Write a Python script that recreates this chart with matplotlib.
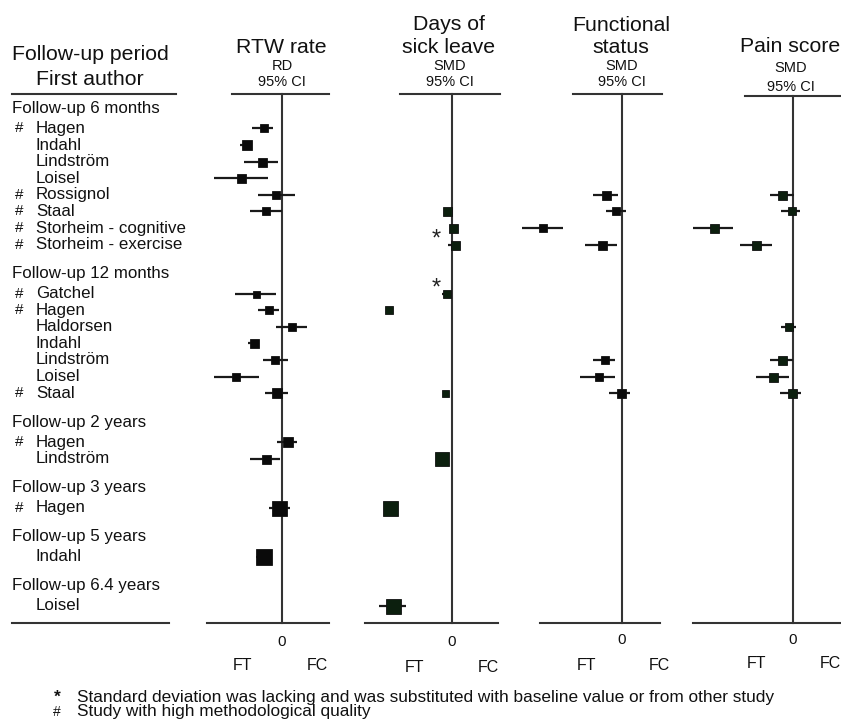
import numpy as np
import matplotlib
matplotlib.use("Agg")
import matplotlib.pyplot as plt

# ---------------- data ----------------
groups = ["Follow-up 6 months", "Follow-up 12 months", "Follow-up 2 years",
          "Follow-up 3 years", "Follow-up 5 years", "Follow-up 6.4 years"]
group_sizes = [8, 7, 2, 1, 1, 1]
study_labels = ["Hagen", "Indahl", "Lindström", "Loisel", "Rossignol", "Staal",
                "Storheim - cognitive", "Storheim - exercise",
                "Gatchel", "Hagen", "Haldorsen", "Indahl", "Lindström", "Loisel", "Staal",
                "Hagen", "Lindström",
                "Hagen",
                "Indahl",
                "Loisel"]
high_quality = [1, 0, 0, 0, 1, 1, 1, 1,
                1, 1, 0, 0, 0, 0, 1,
                1, 0,
                1,
                0,
                0]
nan = np.nan
# RTW rate, risk difference
rtw_est = [-0.09, -0.175, -0.10, -0.205, -0.03, -0.08, nan, nan,
           -0.13, -0.067, 0.05, -0.14, -0.033, -0.23, -0.025,
           0.028, -0.078, -0.017, -0.088, nan]
rtw_lo = [-0.15, -0.21, -0.19, -0.34, -0.12, -0.16, nan, nan,
          -0.235, -0.12, -0.03, -0.17, -0.095, -0.34, -0.083,
          -0.025, -0.16, -0.067, -0.128, nan]
rtw_hi = [-0.045, -0.15, -0.02, -0.07, 0.065, 0.0, nan, nan,
          -0.03, -0.017, 0.125, -0.113, 0.028, -0.117, 0.028,
          0.075, -0.008, 0.038, -0.05, nan]
rtw_weight = [8, 10, 9, 9, 8, 8, 0, 0, 7, 8, 8, 9, 8, 8, 10, 10, 9, 15, 16, 0]

# Days of sick leave, SMD
sick_est = [nan, nan, nan, nan, nan, -0.05, 0.01, 0.03,
            -0.045, -0.63, nan, nan, nan, nan, -0.07,
            nan, -0.095, -0.62, nan, -0.59]
sick_lo = [nan, nan, nan, nan, nan, -0.08, -0.02, -0.04,
           -0.10, -0.66, nan, nan, nan, nan, -0.09,
           nan, -0.13, -0.65, nan, -0.73]
sick_hi = [nan, nan, nan, nan, nan, -0.02, 0.04, 0.06,
           -0.01, -0.60, nan, nan, nan, nan, -0.05,
           nan, -0.06, -0.59, nan, -0.46]
sick_weight = [0, 0, 0, 0, 0, 9, 9, 9, 8, 8, 0, 0, 0, 0, 7, 0, 14, 15, 0, 15]
sick_sd_imputed = [0, 0, 0, 0, 0, 0, 0, 1, 1, 0, 0, 0, 0, 0, 0, 0, 0, 0, 0, 0]

# Functional status, SMD
func_est = [nan, nan, nan, nan, -0.16, -0.057, -0.79, -0.20,
            nan, nan, nan, nan, -0.167, -0.23, -0.01,
            nan, nan, nan, nan, nan]
func_lo = [nan, nan, nan, nan, -0.29, -0.157, -1.0, -0.37,
           nan, nan, nan, nan, -0.29, -0.42, -0.13,
           nan, nan, nan, nan, nan]
func_hi = [nan, nan, nan, nan, -0.04, 0.043, -0.59, -0.05,
           nan, nan, nan, nan, -0.067, -0.067, 0.076,
           nan, nan, nan, nan, nan]
func_weight = [0, 0, 0, 0, 9, 8, 8, 9, 0, 0, 0, 0, 8, 8, 9, 0, 0, 0, 0, 0]

# Pain score, SMD
pain_est = [nan, nan, nan, nan, -0.11, -0.01, -0.79, -0.37,
            nan, nan, -0.044, nan, -0.11, -0.20, -0.01,
            nan, nan, nan, nan, nan]
pain_lo = [nan, nan, nan, nan, -0.23, -0.12, -1.0, -0.53,
           nan, nan, -0.12, nan, -0.227, -0.37, -0.127,
           nan, nan, nan, nan, nan]
pain_hi = [nan, nan, nan, nan, 0.013, 0.073, -0.6, -0.21,
           nan, nan, 0.033, nan, -0.003, -0.044, 0.083,
           nan, nan, nan, nan, nan]
pain_weight = [0, 0, 0, 0, 9, 8, 9, 9, 0, 0, 8, 0, 9, 9, 9, 0, 0, 0, 0, 0]

# ---------------- layout ----------------
W, H = 841, 722
fig = plt.figure(figsize=(W / 100, H / 100), dpi=100)
FONT = "Liberation Sans"
plt.rcParams["font.family"] = [FONT, "DejaVu Sans"]
LINE_C = "#333333"

ROW0_PX, UNIT_PX = 108.5, 16.6


def u(py):
    return (py - ROW0_PX) / UNIT_PX


# row positions (in row units)
header_y, study_y = [], []
pos = 0.0
for gi, n in enumerate(group_sizes):
    if gi > 0:
        pos += 1.75
    header_y.append(pos)
    pos += 1.2
    for k in range(n):
        study_y.append(pos)
        pos += 1.0
    pos -= 1.0

TOP_U = u(94)
BOT_U = u(622.5)

# label axes
lab = fig.add_axes([0, 0, 1, 1])
lab.set_xlim(0, W)
lab.set_ylim(u(H), u(0))
lab.axis("off")
lab.patch.set_alpha(0)
for g, y in zip(groups, header_y):
    lab.text(12, y, g, fontsize=12.2, va="center", ha="left", color="#111")
for s, hq, y in zip(study_labels, high_quality, study_y):
    lab.text(36, y, s, fontsize=12.2, va="center", ha="left", color="#111")
    if hq:
        lab.text(15, y, "#", fontsize=11, va="center", ha="left", color="#111")
lab.plot([12, 176], [TOP_U, TOP_U], color=LINE_C, lw=1.5)
lab.plot([12, 169], [BOT_U, BOT_U], color=LINE_C, lw=1.5)


def fx(px):
    return px / W


def fy(py):
    return 1 - py / H


fig.text(fx(90), fy(60), "Follow-up period", fontsize=15.3, ha="center", va="baseline", color="#111")
fig.text(fx(90), fy(85), "First author", fontsize=15.3, ha="center", va="baseline", color="#111")

panels = [
    dict(est=rtw_est, lo=rtw_lo, hi=rtw_hi, w=rtw_weight, zero=282, scale=200,
         top=(232, 329), bot=(207, 329), mc="#0a0a0a",
         title=[("RTW rate", 15.3, 52.7)], sub=[("RD", 10.5, 70), ("95% CI", 10.5, 86)],
         tx=281, ft=(242, 317), lab_y=(642, 666)),
    dict(est=sick_est, lo=sick_lo, hi=sick_hi, w=sick_weight, zero=452, scale=100,
         top=(400, 500), bot=(365, 498), mc="#0c1f0e",
         title=[("Days of", 15.3, 30.5), ("sick leave", 15.3, 53)],
         sub=[("SMD", 10.5, 70), ("95% CI", 10.5, 86)],
         tx=449, ft=(415, 488), lab_y=(642, 667)),
    dict(est=func_est, lo=func_lo, hi=func_hi, w=func_weight, zero=622, scale=100,
         top=(573, 662), bot=(540, 660), mc="#0a0a0a",
         title=[("Functional", 15.3, 31), ("status", 15.3, 53)],
         sub=[("SMD", 10.5, 70), ("95% CI", 10.5, 86)],
         tx=621, ft=(587, 659), lab_y=(640, 666)),
    dict(est=pain_est, lo=pain_lo, hi=pain_hi, w=pain_weight, zero=793, scale=100,
         top=(745, 841), bot=(693, 841), mc="#0c1f0e",
         title=[("Pain score", 15.3, 51.7)], sub=[("SMD", 10.5, 71.7), ("95% CI", 10.5, 90.7)],
         tx=790, ft=(757, 830), lab_y=(640, 663)),
]

for p in panels:
    ax = fig.add_axes([0, 0, 1, 1])
    ax.patch.set_alpha(0)
    ax.axis("off")
    z, sc = p["zero"], p["scale"]
    ax.set_xlim((0 - z) / sc, (W - z) / sc)
    ax.set_ylim(u(H), u(0))
    top_u = TOP_U if p is not panels[3] else u(96)
    ax.plot([(p["top"][0] - z) / sc, (p["top"][1] - z) / sc], [top_u, top_u], color=LINE_C, lw=1.5)
    ax.plot([(p["bot"][0] - z) / sc, (p["bot"][1] - z) / sc], [BOT_U, BOT_U], color=LINE_C, lw=1.5)
    ax.plot([0, 0], [top_u, BOT_U], color=LINE_C, lw=1.5)
    est = np.array(p["est"], dtype=float)
    lo = np.array(p["lo"], dtype=float)
    hi = np.array(p["hi"], dtype=float)
    for e, l, h, w, y in zip(est, lo, hi, p["w"], study_y):
        if np.isnan(e):
            continue
        ax.plot([l, h], [y, y], color="#1a1a1a", lw=1.6, solid_capstyle="butt", zorder=3)
        ax.plot([e], [y], marker="s", ms=w * 0.72, color=p["mc"], mec="#111", mew=0.6, zorder=4)
    for t, fs, by in p["title"]:
        fig.text(fx(p["tx"]), fy(by), t, fontsize=fs, ha="center", va="baseline", color="#111")
    for t, fs, by in p["sub"]:
        fig.text(fx(p["tx"] + 1), fy(by), t, fontsize=fs, ha="center", va="baseline", color="#111")
    ax.text(0, u(p["lab_y"][0]), "0", fontsize=11, ha="center", va="center", color="#111")
    ax.text((p["ft"][0] - z) / sc, u(p["lab_y"][1]), "FT", fontsize=11.5, ha="center", va="center", color="#111")
    ax.text((p["ft"][1] - z) / sc, u(p["lab_y"][1]), "FC", fontsize=11.5, ha="center", va="center", color="#111")
    if p is panels[1]:
        for flag, e, y in zip(sick_sd_imputed, est, study_y):
            if flag:
                ax.text(-0.16, y - 0.3, "*", fontsize=17, ha="center", va="center", color="#222")

# footnotes
fig.text(fx(57), fy(697), "*", fontsize=12.5, ha="center", va="center", color="#111", fontweight="bold")
fig.text(fx(77), fy(702), "Standard deviation was lacking and was substituted with baseline value or from other study",
         fontsize=12.45, ha="left", va="baseline", color="#111")
fig.text(fx(57), fy(712), "#", fontsize=10, ha="center", va="center", color="#111")
fig.text(fx(77), fy(716), "Study with high methodological quality",
         fontsize=12.45, ha="left", va="baseline", color="#111")

fig.savefig("out.png", dpi=100)
